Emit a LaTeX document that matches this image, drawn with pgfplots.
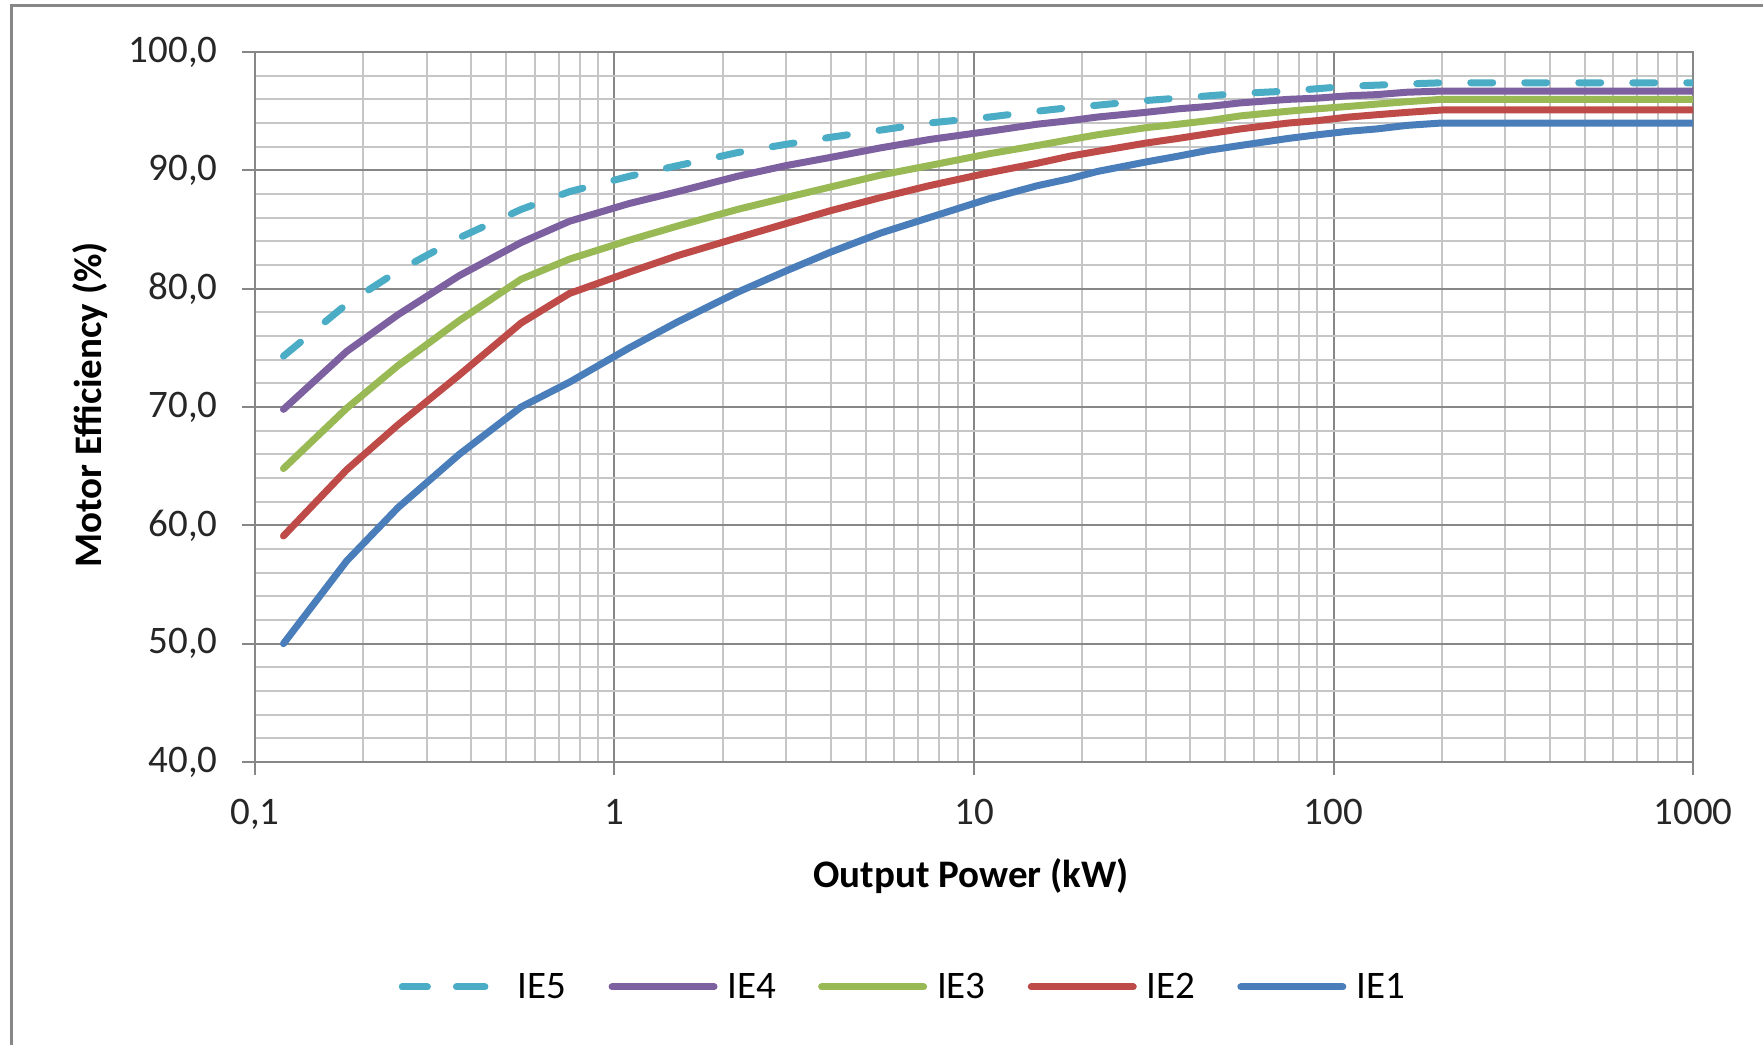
\documentclass[border=0pt]{standalone}
\usepackage{fontspec}
\setmainfont{Carlito}
\usepackage{pgfplots}
\pgfplotsset{compat=1.18}

\definecolor{ieone}{HTML}{4A7EBB}
\definecolor{ietwo}{HTML}{BE4B48}
\definecolor{iethree}{HTML}{98B954}
\definecolor{iefour}{HTML}{7D60A0}
\definecolor{iefive}{HTML}{4BACC6}
\definecolor{gridmaj}{HTML}{878787}
\definecolor{gridmin}{HTML}{C6C6C6}

\pgfplotsset{
  dashlegend/.style={legend image code/.code={%
    \draw[##1, dash pattern=on 12.5bp off 16.25bp] (0bp,0bp) -- (41.25bp,0bp);
    \path (0bp,0bp) -- (51bp,0bp);}},
}

% x: output power (kW), then IE1..IE5 efficiency (%)
\pgfplotstableread{
P     IEa  IEb  IEc  IEd  IEe
0.12  50.0 59.1 64.8 69.8 74.3
0.18  57.0 64.7 69.9 74.7 78.7
0.25  61.5 68.5 73.5 77.8 81.5
0.37  66.0 72.7 77.3 81.1 84.3
0.55  70.0 77.1 80.8 83.9 86.7
0.75  72.1 79.6 82.5 85.7 88.2
1.1   75.0 81.4 84.1 87.2 89.5
1.5   77.2 82.8 85.3 88.2 90.4
2.2   79.7 84.3 86.7 89.5 91.5
3     81.5 85.5 87.7 90.4 92.2
4     83.1 86.6 88.6 91.1 92.8
5.5   84.7 87.7 89.6 91.9 93.4
7.5   86.0 88.7 90.4 92.6 94.0
11    87.6 89.8 91.4 93.3 94.5
15    88.7 90.6 92.1 93.9 95.0
18.5  89.3 91.2 92.6 94.2 95.3
22    89.9 91.6 93.0 94.5 95.5
30    90.7 92.3 93.6 94.9 95.9
37    91.2 92.7 93.9 95.2 96.1
45    91.7 93.1 94.2 95.4 96.3
55    92.1 93.5 94.6 95.7 96.5
75    92.7 94.0 95.0 96.0 96.7
90    93.0 94.2 95.2 96.1 96.9
110   93.3 94.5 95.4 96.3 97.1
132   93.5 94.7 95.6 96.4 97.2
160   93.8 94.9 95.8 96.6 97.3
200   94.0 95.1 96.0 96.7 97.4
1000  94.0 95.1 96.0 96.7 97.4
}\effdata

\begin{document}
\begin{tikzpicture}
\path[use as bounding box] (-127.5bp,-141.5bp) rectangle (754bp,381bp);
\begin{axis}[
  scale only axis,
  width=719bp,
  height=355bp,
  xmode=log,
  xmin=0.1, xmax=1000,
  ymin=40, ymax=100,
  xtick={0.1,1,10,100,1000},
  xticklabels={{0,1},1,10,100,1000},
  ytick={40,50,60,70,80,90,100},
  yticklabels={{40,0},{50,0},{60,0},{70,0},{80,0},{90,0},{100,0}},
  minor y tick num=4,
  grid=both,
  major grid style={draw=gridmaj, line width=1bp},
  minor grid style={draw=gridmin, line width=1bp},
  axis line style={draw=gridmaj, line width=1bp},
  tick align=outside,
  xtick pos=bottom, ytick pos=left,
  major tick length=6.5bp,
  minor tick length=0pt,
  tick style={draw=gridmaj, line width=1bp},
  ticklabel style={font=\fontsize{19.5bp}{23bp}\selectfont, text=black!85},
  xticklabel style={anchor=north, inner sep=0pt, yshift=-12bp},
  yticklabel style={anchor=east, inner sep=0pt, xshift=-12bp},
  xlabel={\bfseries Output Power (kW)},
  ylabel={\bfseries Motor Efficiency (\%)},
  label style={font=\fontsize{19.5bp}{23bp}\selectfont},
  xlabel style={at={(axis description cs:0.498,-0.1606)}, anchor=center},
  ylabel style={at={(axis description cs:-0.1147,0.503)}, anchor=center, rotate=0},
  legend columns=5,
  legend style={draw=none, fill=none, inner sep=0pt, outer sep=0pt,
    at={(axis description cs:0.1001,-0.3169)}, anchor=west,
    font=\fontsize{19.5bp}{23bp}\selectfont,
    /tikz/every odd column/.append style={column sep=3bp},
    /tikz/every even column/.append style={column sep=19bp}},
  legend image code/.code={\draw[#1] (0bp,0bp) -- (51bp,0bp);},
  every axis plot/.append style={line width=3.5bp, line cap=round, line join=round},
]
\addplot[iefive, dash pattern=on 11bp off 16bp, dashlegend] table[x=P, y=IEe] {\effdata};
\addlegendentry{IE5}
\addplot[iefour] table[x=P, y=IEd] {\effdata};
\addlegendentry{IE4}
\addplot[iethree] table[x=P, y=IEc] {\effdata};
\addlegendentry{IE3}
\addplot[ietwo] table[x=P, y=IEb] {\effdata};
\addlegendentry{IE2}
\addplot[ieone] table[x=P, y=IEa] {\effdata};
\addlegendentry{IE1}
\end{axis}
\draw[gridmaj, line width=1.5bp] (-121.75bp,-141.5bp) -- (-121.75bp,378bp) -- (754bp,378bp);
\end{tikzpicture}
\end{document}
